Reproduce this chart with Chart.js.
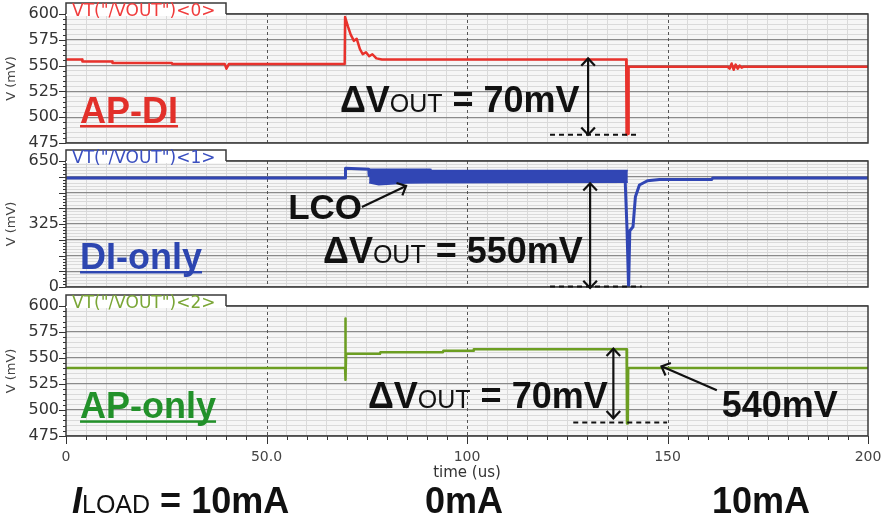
<!DOCTYPE html>
<html>
<head>
<meta charset="utf-8">
<script src="https://cdn.jsdelivr.net/npm/chart.js@4.4.1/dist/chart.umd.min.js"></script>
<style>
  body { margin: 0; background: #fff; width: 888px; height: 523px; overflow: hidden; position: relative;
         font-family: "Liberation Sans", Arial, sans-serif; }
  canvas { position: absolute; left: 0; }
  .load { position: absolute; top: 483px; font-size: 36px; line-height: 36px; font-weight: bold; color: #111; white-space: nowrap; }
  .load i { font-style: italic; }
  .load .sub { font-size: 25px; font-weight: normal; }
</style>
</head>
<body>
<canvas id="c0" width="888" height="150" style="top:0"></canvas>
<canvas id="c1" width="888" height="146" style="top:148px"></canvas>
<canvas id="c2" width="888" height="231" style="top:292px"></canvas>
<div class="load" style="left:72px"><i>I</i><span class="sub">LOAD</span> = 10mA</div>
<div class="load" style="left:425px">0mA</div>
<div class="load" style="left:712px">10mA</div>
<script>
// time axis (us) and tick labels
const xTickLabels = { 0: '0', 50: '50.0', 100: '100', 150: '150', 200: '200' };

// AP-DI, VT("/VOUT")<0>, mV
const apdiT = [0, 4, 4.1, 11.5, 11.6, 26.4, 26.5, 39.6, 40, 40.6, 69.5, 69.6, 70.3, 71, 71.8, 72.5, 73.3, 74,
  74.8, 75.6, 76.4, 77.4, 78.8, 139.7, 139.8, 140.2, 140.3, 165, 165.5, 166, 166.5, 167, 167.5, 168, 168.5, 169, 200];
const apdiV = [556, 556, 554, 554, 552.5, 552.5, 551.5, 551.5, 547, 551.5, 551.5, 597, 588, 580, 574, 576, 566, 561,
  563, 559, 561, 557, 556, 556, 483, 484, 549, 549, 547, 552, 546, 551, 547, 550, 548, 549, 549];

// DI-only, VT("/VOUT")<1>, mV
const dionlyT = [0, 69.6, 69.7, 75.5, 75.6, 139.4, 139.9, 140.3, 140.6, 141.4, 142, 143, 145, 148, 161, 161.3, 200];
const dionlyV = [562, 562, 612, 608, 575, 575, 300, -5, 290, 311, 466, 526, 548, 555, 555, 562, 562];
// LCO envelope (top / bottom)
const lcoT = [75.6, 78, 85, 90.8, 91, 140.1];
const lcoTop = [608, 607, 607, 607, 601, 601];
const lcoBot = [538, 527, 536, 538, 538, 540];

// AP-only, VT("/VOUT")<2>, mV
const aponlyT = [0, 69.6, 69.65, 69.75, 69.85, 78.3, 78.4, 94, 94.1, 101.6, 101.7, 139.8, 139.9, 140.1, 140.2, 200];
const aponlyV = [540.5, 540.5, 588, 529, 554, 554, 555.5, 555.5, 557, 557, 558.5, 558.5, 487, 487, 540.5, 540.5];

const pts = (t, v) => t.map((x, i) => ({ x, y: v[i] }));

// annotations, in data coordinates
const DECO = {
  c0: {
    header: 'VT("/VOUT")<0>', headerColor: '#f03c3c',
    label: 'AP-DI', labelColor: '#e2302a', labelAt: [3.5, 494.4],
    dv: { text: '70mV', at: [68.3, 505] },
    dbl: [[130.2, 557, 130.2, 483]],
    dash: [[120.7, 483, 143.1, 483]],
    arr: [], texts: []
  },
  c1: {
    header: 'VT("/VOUT")<1>', headerColor: '#3a4fc0',
    label: 'DI-only', labelColor: '#2d46b0', labelAt: [3.5, 92.9],
    dv: { text: '550mV', at: [64.1, 123.8] },
    dbl: [[130.7, 535, 130.7, -5]],
    dash: [[120.7, 2, 143.6, 2]],
    arr: [[73.8, 413, 84.8, 521]],
    texts: [{ text: 'LCO', at: [55.4, 350], size: 35 }]
  },
  c2: {
    header: 'VT("/VOUT")<2>', headerColor: '#7aa636',
    label: 'AP-only', labelColor: '#22912a', labelAt: [3.5, 492],
    dv: { text: '70mV', at: [75.3, 501.9] },
    dbl: [[136.5, 559, 136.5, 492]],
    dash: [[126.5, 488, 149.9, 488]],
    arr: [[162.3, 519, 148.5, 542]],
    texts: [{ text: '540mV', at: [163.5, 493.6], size: 36 }],
    xTicks: true
  }
};

const BOLD = '"Liberation Sans", Arial, sans-serif';

function head(ctx, x1, y1, x2, y2) {
  const a = Math.atan2(y2 - y1, x2 - x1), L = 10, w = 0.75;
  ctx.beginPath();
  ctx.moveTo(x2 - L * Math.cos(a - w), y2 - L * Math.sin(a - w));
  ctx.lineTo(x2, y2);
  ctx.lineTo(x2 - L * Math.cos(a + w), y2 - L * Math.sin(a + w));
  ctx.stroke();
}

const panelDeco = {
  id: 'panelDeco',
  beforeDraw(c) {
    const { ctx, chartArea: a } = c;
    ctx.save();
    ctx.fillStyle = '#f6f6f6';
    ctx.fillRect(a.left, a.top, a.right - a.left, a.bottom - a.top);
    ctx.restore();
  },
  beforeDatasetsDraw(c) {
    const { ctx, chartArea: a, scales } = c;
    ctx.save();
    ctx.strokeStyle = '#555';
    ctx.lineWidth = 1;
    ctx.setLineDash([3, 3]);
    [50, 100, 150].forEach(v => {
      const x = Math.round(scales.x.getPixelForValue(v)) + 0.5;
      ctx.beginPath(); ctx.moveTo(x, a.top); ctx.lineTo(x, a.bottom); ctx.stroke();
    });
    ctx.restore();
  },
  afterDraw(c) {
    const d = DECO[c.canvas.id];
    const { ctx, chartArea: a, scales } = c;
    const X = v => scales.x.getPixelForValue(v), Y = v => scales.y.getPixelForValue(v);
    ctx.save();
    // y tick marks
    ctx.strokeStyle = '#333';
    ctx.lineWidth = 1;
    scales.y.ticks.forEach((t, i) => {
      const y = Math.round(Y(t.value)) + 0.5, len = i % 5 === 0 ? 7 : 3;
      ctx.beginPath(); ctx.moveTo(a.left - len, y); ctx.lineTo(a.left, y); ctx.stroke();
    });
    if (d.xTicks) {
      scales.x.ticks.forEach((t, i) => {
        const x = Math.round(X(t.value)) + 0.5, len = i % 10 === 0 ? 8 : 4;
        ctx.beginPath(); ctx.moveTo(x, a.bottom); ctx.lineTo(x, a.bottom + len); ctx.stroke();
      });
    }
    // frame
    ctx.strokeStyle = '#3a3a3a';
    ctx.lineWidth = 1.5;
    ctx.strokeRect(a.left, a.top, a.right - a.left, a.bottom - a.top);
    // header tab
    ctx.fillStyle = '#fff';
    ctx.fillRect(a.left, a.top - 11, 160, 13);
    ctx.beginPath();
    ctx.moveTo(a.left, a.top); ctx.lineTo(a.left, a.top - 11);
    ctx.lineTo(a.left + 160, a.top - 11); ctx.lineTo(a.left + 160, a.top);
    ctx.stroke();
    ctx.font = '17px "DejaVu Sans", sans-serif';
    ctx.fillStyle = d.headerColor;
    ctx.textBaseline = 'alphabetic';
    ctx.fillText(d.header, a.left + 6, a.top + 2);
    // panel label, underlined
    ctx.font = 'bold 36px ' + BOLD;
    ctx.fillStyle = d.labelColor;
    const lx = X(d.labelAt[0]), ly = Y(d.labelAt[1]);
    ctx.fillText(d.label, lx, ly);
    const lw = ctx.measureText(d.label).width;
    ctx.fillRect(lx, ly + 2, lw, 2.5);
    // delta V text
    ctx.fillStyle = '#111';
    let tx = X(d.dv.at[0]);
    const ty = Y(d.dv.at[1]);
    ctx.font = 'bold 36px ' + BOLD;
    ctx.fillText('\u0394V', tx, ty); tx += ctx.measureText('\u0394V').width;
    ctx.font = '25px ' + BOLD;
    ctx.fillText('OUT', tx, ty); tx += ctx.measureText('OUT').width;
    ctx.font = 'bold 36px ' + BOLD;
    ctx.fillText(' = ' + d.dv.text, tx, ty);
    d.texts.forEach(t => {
      ctx.font = 'bold ' + t.size + 'px ' + BOLD;
      ctx.fillText(t.text, X(t.at[0]), Y(t.at[1]));
    });
    // arrows
    ctx.strokeStyle = '#111';
    ctx.lineWidth = 2.2;
    d.dbl.forEach(([x1, y1, x2, y2]) => {
      const p1 = [X(x1), Y(y1)], p2 = [X(x2), Y(y2)];
      ctx.beginPath(); ctx.moveTo(p1[0], p1[1]); ctx.lineTo(p2[0], p2[1]); ctx.stroke();
      head(ctx, p1[0], p1[1], p2[0], p2[1]);
      head(ctx, p2[0], p2[1], p1[0], p1[1]);
    });
    d.arr.forEach(([x1, y1, x2, y2]) => {
      const p1 = [X(x1), Y(y1)], p2 = [X(x2), Y(y2)];
      ctx.beginPath(); ctx.moveTo(p1[0], p1[1]); ctx.lineTo(p2[0], p2[1]); ctx.stroke();
      head(ctx, p1[0], p1[1], p2[0], p2[1]);
    });
    ctx.setLineDash([5, 4]);
    ctx.lineWidth = 2;
    d.dash.forEach(([x1, y1, x2, y2]) => {
      ctx.beginPath(); ctx.moveTo(X(x1), Y(y1)); ctx.lineTo(X(x2), Y(y2)); ctx.stroke();
    });
    ctx.restore();
  }
};

function panel(id, datasets, yMin, yMax, yStep, yLabel, pad, showX) {
  return new Chart(document.getElementById(id), {
    type: 'line',
    data: { datasets },
    plugins: [panelDeco],
    options: {
      responsive: false,
      animation: false,
      layout: { padding: pad },
      plugins: { legend: { display: false }, tooltip: { enabled: false } },
      elements: { point: { radius: 0 }, line: { tension: 0, borderWidth: 2.5, borderJoinStyle: 'round' } },
      scales: {
        x: {
          type: 'linear', min: 0, max: 200,
          grid: { drawTicks: false, color: ctx => ctx.index % 10 === 0 ? 'rgba(0,0,0,0)' : '#dadada', lineWidth: 1 },
          border: { display: false },
          ticks: {
            display: showX, stepSize: 5, autoSkip: false, maxRotation: 0, padding: 13,
            color: '#444', font: { family: '"DejaVu Sans", sans-serif', size: 14 },
            callback: v => xTickLabels[v] !== undefined ? xTickLabels[v] : ''
          },
          title: { display: showX, text: 'time (us)', color: '#333', padding: 0,
                   font: { family: '"DejaVu Sans", sans-serif', size: 15 } },
          afterFit: s => { s.height = showX ? 46 : 0; s.paddingLeft = 0; s.paddingRight = 0; }
        },
        y: {
          type: 'linear', min: yMin, max: yMax,
          grid: { drawTicks: false,
                  color: ctx => ctx.index % 5 === 0 ? '#8a8a8a' : '#dadada',
                  lineWidth: ctx => ctx.index % 5 === 0 ? 1.3 : 1 },
          border: { display: false },
          ticks: {
            stepSize: yStep, autoSkip: false, padding: 7, color: '#333',
            font: { family: '"DejaVu Sans", sans-serif', size: 16 },
            callback: yLabel
          },
          title: { display: true, text: 'V (mV)', color: '#444', padding: { top: 4, bottom: 0 },
                   font: { family: '"DejaVu Sans", sans-serif', size: 13 } },
          afterFit: s => { s.width = 66; s.paddingTop = 0; s.paddingBottom = 0; }
        }
      }
    }
  });
}

const line = (data, color, extra) => Object.assign({ data, borderColor: color, backgroundColor: color, fill: false }, extra || {});

panel('c0', [line(pts(apdiT, apdiV), '#e8322c')], 475, 600, 5,
  (v, i) => i % 5 === 0 ? String(v) : '', { top: 14, bottom: 7, right: 20 }, false);

panel('c1', [
  line(pts(dionlyT, dionlyV), '#3146b4', { borderWidth: 3 }),
  line(pts(lcoT, lcoTop), '#3146b4', { borderWidth: 1.5 }),
  line(pts(lcoT, lcoBot), '#3146b4', { borderWidth: 1.5, fill: '-1' })
], 0, 650, 16.25, (v, i) => (i === 0 || i === 20 || i === 40) ? String(Math.round(v)) : '',
  { top: 13, bottom: 7, right: 20 }, false);

panel('c2', [line(pts(aponlyT, aponlyV), '#6c9e22')], 475, 600, 5,
  (v, i) => i % 5 === 0 ? String(v) : '', { top: 14, bottom: 41, right: 20 }, true);
</script>
</body>
</html>
